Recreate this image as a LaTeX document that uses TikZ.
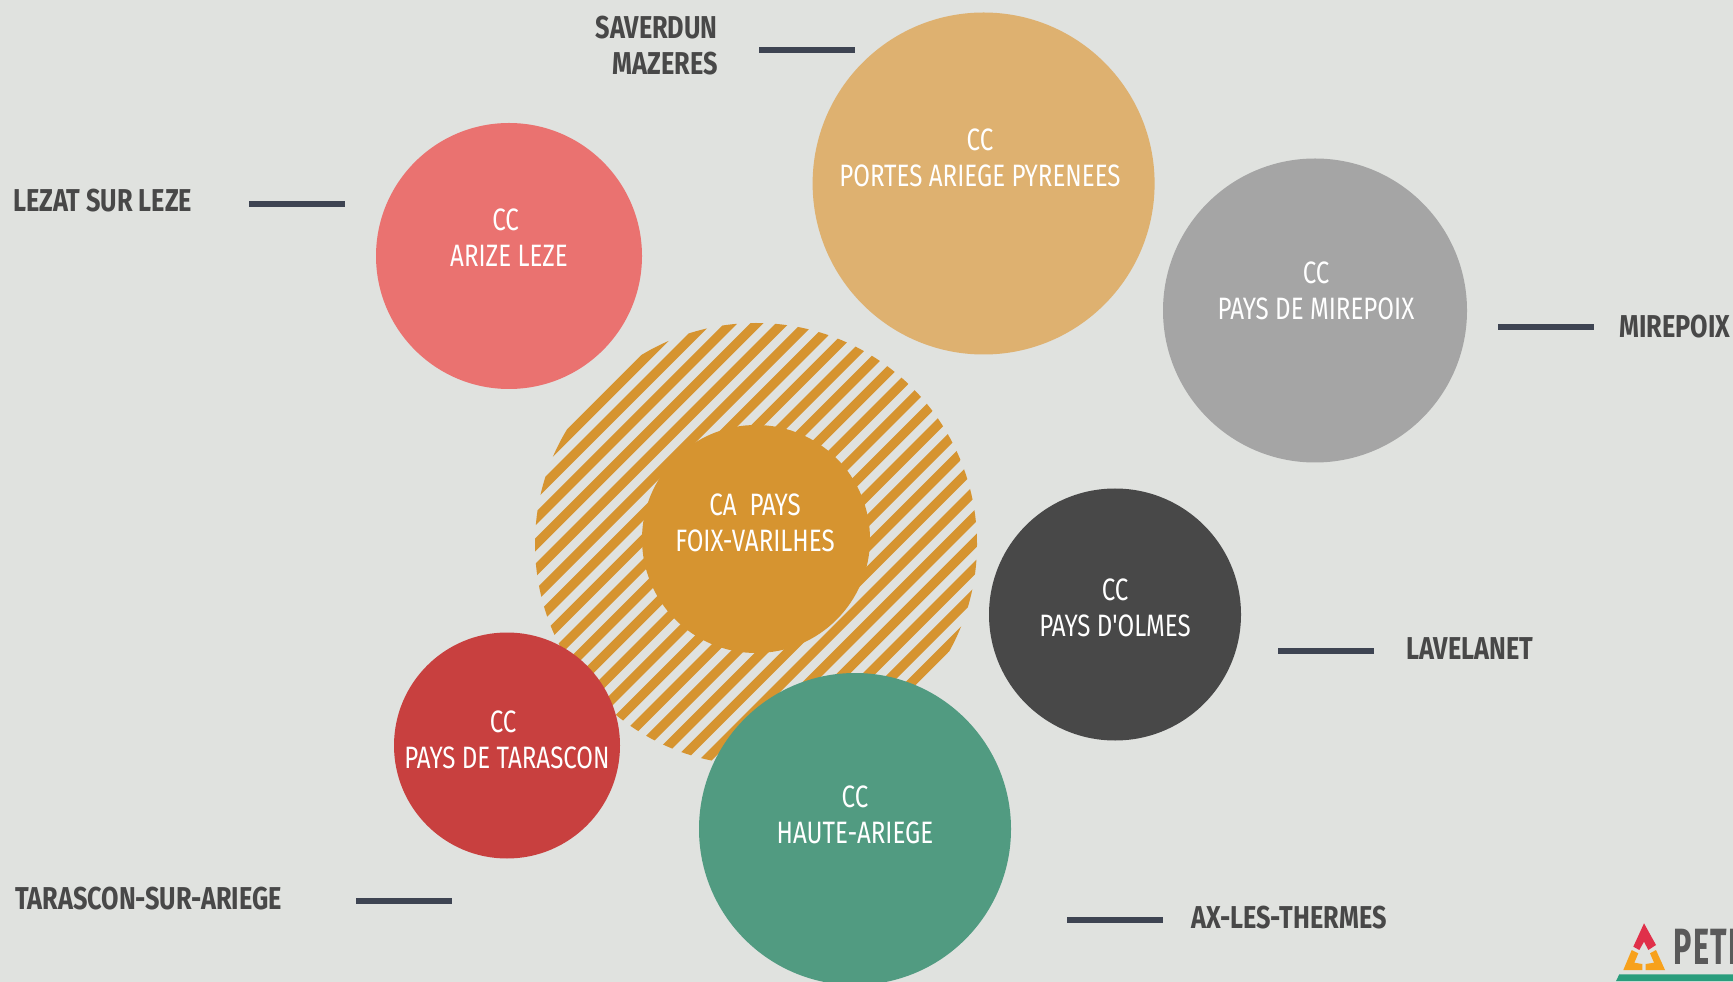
\documentclass[tikz,border=0pt]{standalone}
\usepackage{fontspec}
\newfontfamily\lightf[FakeStretch=0.78]{Fira Sans}
\newfontfamily\boldf[FakeStretch=0.80]{Fira Sans Bold}
\newfontfamily\logof[FakeStretch=0.60,LetterSpace=3]{Fira Sans Bold}
\definecolor{bg}{HTML}{E0E2DF}
\definecolor{dark}{HTML}{484848}
\definecolor{dashc}{HTML}{3E4452}
\definecolor{cArize}{HTML}{EA7270}
\definecolor{cPortes}{HTML}{DEB170}
\definecolor{cMire}{HTML}{A5A5A5}
\definecolor{cOlmes}{HTML}{484848}
\definecolor{cHaute}{HTML}{519B81}
\definecolor{cTara}{HTML}{C8403F}
\definecolor{cCentre}{HTML}{D69430}
\definecolor{logoRed}{HTML}{E0304A}
\definecolor{logoOrange}{HTML}{F7A11C}
\definecolor{logoGreen}{HTML}{2A9D7C}
\tikzset{
  disc/.style={circle,draw=none,inner sep=0pt,minimum size=#1*0.02cm},
  whitetext/.style={text=white,align=center,inner sep=0pt,font=\lightf\fontsize{17.6pt}{20.5pt}\selectfont},
  citytext/.style={text=dark,inner sep=0pt,font=\boldf\fontsize{18pt}{20.5pt}\selectfont},
  dashline/.style={draw=dashc,line width=3.4pt},
  hatch/.style={draw=cCentre,line width=5.3pt}
}
\begin{document}
\begin{tikzpicture}[x=0.02cm,y=-0.02cm]
\useasboundingbox (0,0) rectangle (1733,982);
\fill[bg] (0,0) rectangle (1733,982);
% hatched disc
\begin{scope}
\clip (756,544) circle (221);
\foreach \k in {0,...,24}{
  \pgfmathsetmacro{\s}{1003+25.7*\k}
  \pgfmathsetmacro{\ya}{\s-450}
  \pgfmathsetmacro{\yb}{\s-1050}
  \draw[hatch] (450,\ya) -- (1050,\yb);
}
\end{scope}
\node[disc=228,fill=cCentre] (centre) at (756,539) {};
\node[disc=266,fill=cArize] (arize) at (509,256) {};
\node[disc=342,fill=cPortes] (portes) at (983.6,183.5) {};
\node[disc=304,fill=cMire] (mire) at (1315,310.5) {};
\node[disc=252,fill=cOlmes] (olmes) at (1115,614.5) {};
\node[disc=312,fill=cHaute] (haute) at (855,829) {};
\node[disc=226,fill=cTara] (tara) at (507,745.5) {};
% white labels
\node[whitetext] (tArize) at (509,238) {CC\hbox to 3.8pt{}\\ARIZE LEZE};
\node[whitetext] (tPortes) at (980,158) {CC\\PORTES ARIEGE PYRENEES};
\node[whitetext] (tMire) at (1316,291) {CC\\PAYS DE MIREPOIX};
\node[whitetext] (tCentre) at (755,523) {CA\ \ PAYS\\FOIX-VARILHES};
\node[whitetext] (tOlmes) at (1115,608) {CC\\PAYS D'OLMES};
\node[whitetext] (tHaute) at (855,814.5) {CC\\HAUTE-ARIEGE};
\node[whitetext] (tTara) at (507,740) {CC\hbox to 4.4pt{}\\PAYS DE TARASCON};
% dashes
\coordinate (d1a) at (759,50); \coordinate (d1b) at (855,50);
\coordinate (d2a) at (249,204); \coordinate (d2b) at (345,204);
\coordinate (d3a) at (1498,327); \coordinate (d3b) at (1594,327);
\coordinate (d4a) at (1278,651); \coordinate (d4b) at (1374,651);
\coordinate (d5a) at (1067,920); \coordinate (d5b) at (1163,920);
\coordinate (d6a) at (356,901); \coordinate (d6b) at (452,901);
\foreach \a/\b in {d1a/d1b,d2a/d2b,d3a/d3b,d4a/d4b,d5a/d5b,d6a/d6b}
  \draw[dashline] (\a) -- (\b);
% city labels
\node[citytext,align=right,anchor=east] (cSav) at (718,46) {SAVERDUN\\MAZERES};
\node[citytext,anchor=west] (cLez) at (13,201) {LEZAT SUR LEZE};
\node[citytext,anchor=west] (cMir) at (1619,327) {MIREPOIX};
\node[citytext,anchor=west] (cLav) at (1406,649) {LAVELANET};
\node[citytext,anchor=west] (cAx) at (1191,918) {AX-LES-THERMES};
\node[citytext,anchor=west] (cTar) at (15,898.5) {TARASCON-SUR-ARIEGE};
% logo
\fill[logoRed] (1644,923.3) -- (1656,945) -- (1648.3,950) -- (1644,941.7) -- (1639.3,950) -- (1633.3,946.7) -- cycle;
\fill[logoOrange] (1631.7,950) -- (1638.3,953.3) -- (1634.3,962.7) -- (1642.3,964) -- (1642.3,970) -- (1623.3,970) -- cycle;
\fill[logoOrange] (1656,950) -- (1665,970) -- (1645.7,970) -- (1645.7,964) -- (1654,962.7) -- (1650,953.3) -- cycle;
\fill[logoGreen] (1619.3,974.3) -- (1733,974.3) -- (1733,981) -- (1616,981) -- cycle;
\node[anchor=west,inner sep=0pt,text=dark!90,font=\logof\fontsize{29pt}{29pt}\selectfont] (logo) at (1673,947) {PETR};
\end{tikzpicture}
\end{document}
